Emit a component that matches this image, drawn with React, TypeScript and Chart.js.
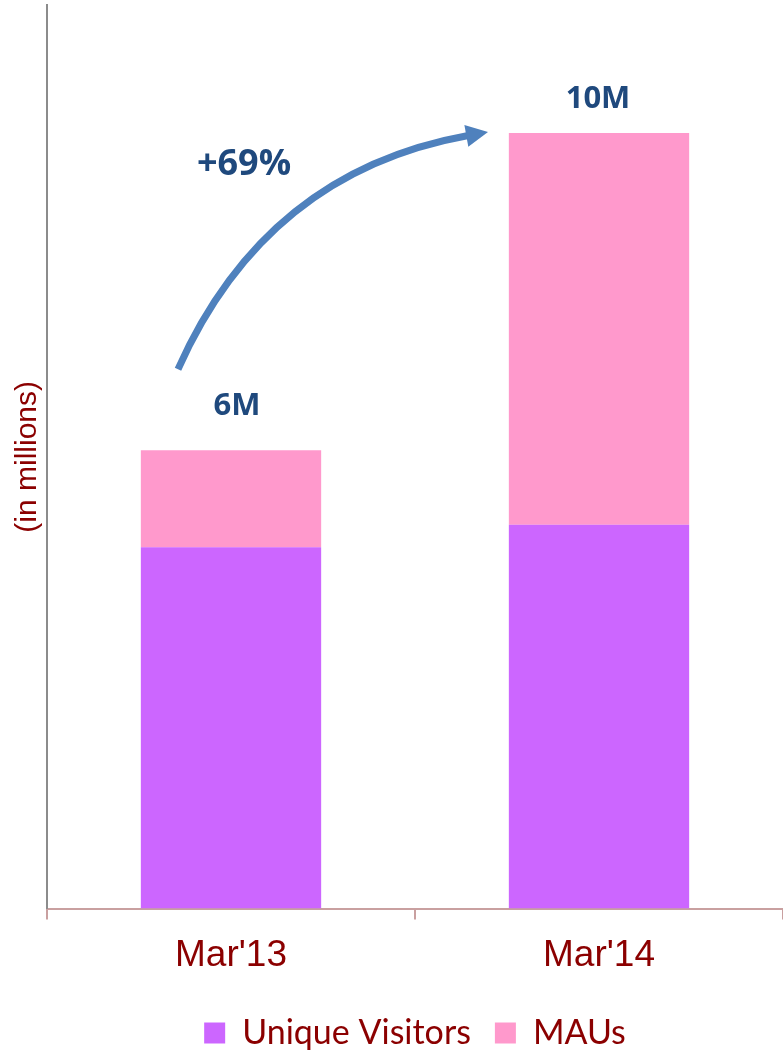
import React, { useEffect, useRef } from "react";
import { Chart, registerables } from "chart.js";

Chart.register(...registerables);

const categories = ["Mar'13", "Mar'14"];
const uniqueVisitors = [4.66, 4.95];
const maus = [1.25, 5.05];
const totalLabels = ["6M", "10M"];
const growthLabel = "+69%";
const seriesNames = ["Unique Visitors", "MAUs"];

const annotations = {
  id: "annotations",
  afterDatasetsDraw(chart: any) {
    const { ctx, scales } = chart;
    const xs = scales.x;
    const ys = scales.y;
    const totals = uniqueVisitors.map((v, i) => v + maus[i]);
    ctx.save();
    ctx.fillStyle = "#1F497D";
    ctx.font = "bold 31px 'Open Sans'";
    ctx.textAlign = "center";
    ctx.textBaseline = "alphabetic";
    totals.forEach((t, i) => {
      const x = xs.getPixelForValue(i);
      const y = ys.getPixelForValue(t);
      ctx.fillText(totalLabels[i], x + (i === 0 ? 6 : -1), y - (i === 0 ? 35 : 25));
    });
    // arrow
    const x0 = xs.getPixelForValue(0);
    const x1 = xs.getPixelForValue(1);
    const top0 = ys.getPixelForValue(totals[0]);
    const top1 = ys.getPixelForValue(totals[1]);
    const sx = x0 - 53, sy = top0 - 81;
    const tx = x1 - 111, ty = top1 - 1;
    const cx = sx + 88, cy = ty + 40;
    const dx = tx - cx, dy = ty - cy;
    const len = Math.hypot(dx, dy);
    const ux = dx / len, uy = dy / len;
    const headLen = 22, headHalf = 11;
    const bx = tx - ux * headLen, by = ty - uy * headLen;
    ctx.strokeStyle = "#4F81BD";
    ctx.lineWidth = 7;
    ctx.beginPath();
    ctx.moveTo(sx, sy);
    ctx.quadraticCurveTo(cx, cy, bx + ux * 2, by + uy * 2);
    ctx.stroke();
    ctx.fillStyle = "#4F81BD";
    ctx.beginPath();
    ctx.moveTo(tx, ty);
    ctx.lineTo(bx - uy * headHalf, by + ux * headHalf);
    ctx.lineTo(bx + uy * headHalf, by - ux * headHalf);
    ctx.closePath();
    ctx.fill();
    ctx.fillStyle = "#1F497D";
    ctx.font = "bold 36px 'Open Sans'";
    ctx.fillText(growthLabel, sx + 66, ty + 43);
    ctx.restore();
  },
};

export default function App() {
  const ref = useRef<HTMLCanvasElement>(null);
  useEffect(() => {
    document.body.style.margin = "0";
    const chart = new Chart(ref.current!, {
      type: "bar",
      data: {
        labels: categories,
        datasets: [
          {
            label: seriesNames[0],
            data: uniqueVisitors,
            backgroundColor: "#CC66FF",
            barPercentage: 0.49,
            categoryPercentage: 1,
          },
          {
            label: seriesNames[1],
            data: maus,
            backgroundColor: "#FF99CC",
            barPercentage: 0.49,
            categoryPercentage: 1,
          },
        ],
      },
      options: {
        responsive: false,
        animation: false,
        layout: { padding: { left: 0, right: 0, top: 5, bottom: -9 } },
        plugins: {
          tooltip: { enabled: false },
          legend: {
            position: "bottom",
            fullSize: false,
            labels: {
              boxWidth: 21,
              boxHeight: 21,
              color: "#8B0000",
              font: { family: "Lato", size: 34 },
              padding: 24,
            },
          },
        },
        scales: {
          x: {
            stacked: true,
            grid: {
              drawOnChartArea: false,
              drawTicks: true,
              tickLength: 11,
              color: "#C9A0A0",
              lineWidth: 2,
            },
            border: { color: "#C9A0A0", width: 2 },
            ticks: {
              color: "#8B0000",
              font: { family: "'Liberation Sans'", size: 37 },
              padding: 14,
            },
          },
          y: {
            stacked: true,
            min: 0,
            max: 11.65,
            grid: { display: false, drawTicks: false },
            border: { color: "#8C8C8C", width: 2 },
            ticks: { display: false },
            title: {
              display: true,
              text: "(in millions)",
              color: "#8B0000",
              font: { family: "'Liberation Sans'", size: 30, lineHeight: 1.2 },
              padding: { top: 10, bottom: 1 },
            },
          },
        },
      },
      plugins: [annotations],
    });
    return () => chart.destroy();
  }, []);
  return (
    <div style={{ width: 783, height: 1051 }}>
      <canvas ref={ref} width={783} height={1051} />
    </div>
  );
}
